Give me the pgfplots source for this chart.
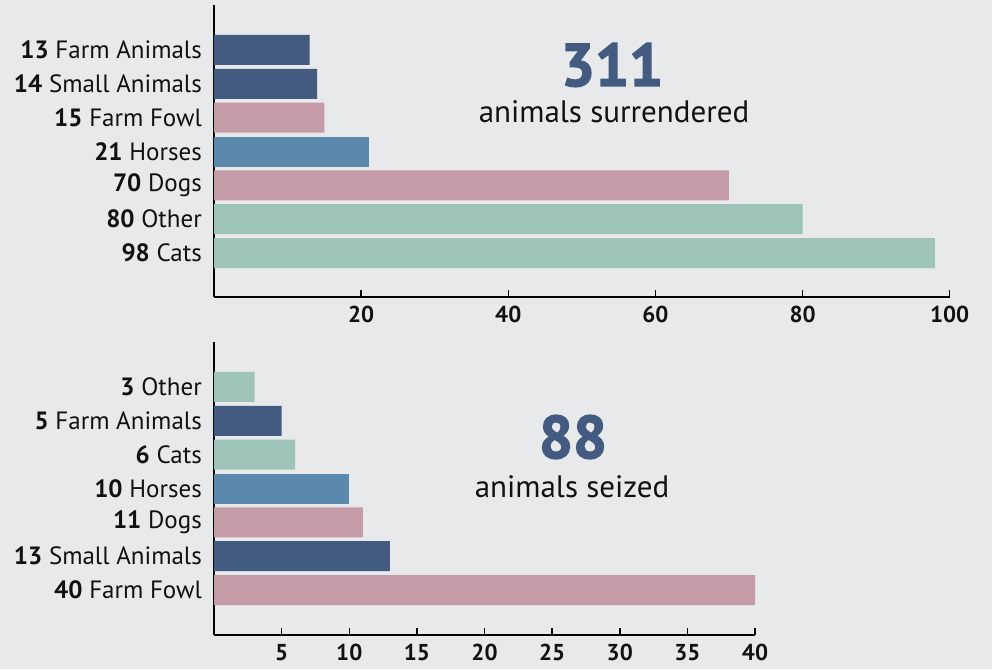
\documentclass[border=0pt]{standalone}
\usepackage{pgfplots}
\pgfplotsset{compat=1.18}
\usepackage{fontspec}
\setmainfont{PT Sans}
\newfontfamily\heavy{PT Sans}[BoldFont={PT Sans Bold}, BoldFeatures={FakeBold=2.5}]
\definecolor{bg}{HTML}{E8E9EB}
\definecolor{dblue}{HTML}{435B80}
\definecolor{pinkc}{HTML}{C49BA7}
\definecolor{sblue}{HTML}{5B88AD}
\definecolor{mint}{HTML}{9EC4B9}
\definecolor{txt}{HTML}{111111}
\pgfplotsset{
  mystyle/.style={
    scale only axis,
    xbar, bar shift=0pt, bar width=30pt,
    axis x line=bottom, axis y line=left,
    axis line style={line width=2.5pt, -, black},
    tick align=inside,
    major tick length=7pt,
    xtick style={line width=1.5pt, black},
    ytick style={draw=none},
    xticklabel style={font=\fontsize{23}{23}\selectfont\bfseries, inner sep=0pt, anchor=north, text=txt},
    yticklabel style={font=\fontsize{25}{25}\selectfont, anchor=east, inner sep=0pt, text=txt},
    xticklabel shift=9pt,
    yticklabel shift=12pt,
    /pgf/number format/assume math mode=true,
    ytick={0,...,6},
    every axis plot/.append style={draw=none},
    clip=false,
  }
}
\begin{document}
\begin{tikzpicture}[x=1pt,y=1pt]
\fill[bg] (0,0) rectangle (992,669);
\useasboundingbox (0,0) rectangle (992,669);
\begin{axis}[mystyle,
  at={(214pt,372pt)}, anchor=south west,
  width=735.7pt, height=292pt,
  xmin=0, xmax=100, ymin=-1.3, ymax=7.33,
  xtick={20,40,60,80,100},
  yticklabels={{\textbf{98} Cats},{\textbf{80} Other},{\textbf{70} Dogs},{\textbf{21} Horses},{\textbf{15} Farm Fowl},{\textbf{14} Small Animals},{\textbf{13} Farm Animals}},
]
\addplot[fill=mint] coordinates {(98,0) (80,1)};
\addplot[fill=pinkc] coordinates {(70,2) (15,4)};
\addplot[fill=sblue] coordinates {(21,3)};
\addplot[fill=dblue] coordinates {(14,5) (13,6)};
\end{axis}
\begin{axis}[mystyle,
  at={(214pt,34pt)}, anchor=south west,
  width=541pt, height=293pt,
  xmin=0, xmax=40, ymin=-1.33, ymax=7.33,
  xtick={5,10,...,40},
  yticklabels={{\textbf{40} Farm Fowl},{\textbf{13} Small Animals},{\textbf{11} Dogs},{\textbf{10} Horses},{\textbf{6} Cats},{\textbf{5} Farm Animals},{\textbf{3} Other}},
]
\addplot[fill=pinkc] coordinates {(40,0) (11,2)};
\addplot[fill=dblue] coordinates {(13,1) (5,5)};
\addplot[fill=sblue] coordinates {(10,3)};
\addplot[fill=mint] coordinates {(6,4) (3,6)};
\end{axis}
\node[text=dblue, font=\fontsize{60}{60}\heavy\bfseries] at (612,604) {311};
\node[text=txt, font=\fontsize{31}{31}\selectfont] at (614,557) {animals surrendered};
\node[text=dblue, font=\fontsize{60}{60}\heavy\bfseries] at (573,232) {88};
\node[text=txt, font=\fontsize{31}{31}\selectfont] at (572,182) {animals seized};
\end{tikzpicture}
\end{document}
